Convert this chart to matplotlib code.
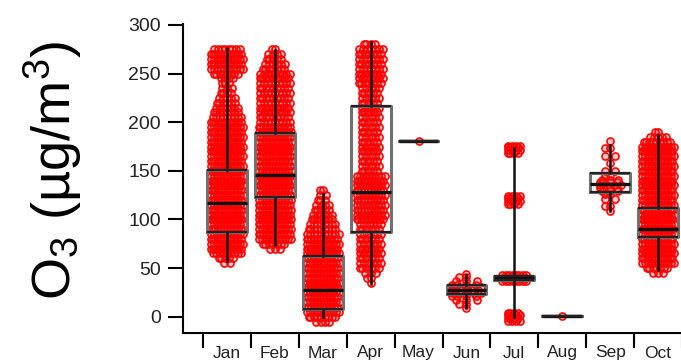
import matplotlib
matplotlib.use("Agg")
import matplotlib.pyplot as plt
import numpy as np

plt.rcParams["font.family"] = ["Liberation Sans", "DejaVu Sans"]
plt.rcParams["mathtext.fontset"] = "custom"
plt.rcParams["mathtext.rm"] = "Liberation Sans"
plt.rcParams["mathtext.it"] = "Liberation Sans:italic"
plt.rcParams["mathtext.bf"] = "Liberation Sans:bold"

months = ["Jan", "Feb", "Mar", "Apr", "May", "Jun", "Jul", "Aug", "Sep", "Oct"]

# box statistics (ug/m3)
q1 = [87, 123, 8, 87, 180.5, 23, 38, 0.5, 128.5, 82]
med = [117, 146, 27.5, 128, 180.5, 27.5, 40, 0.5, 136.5, 90]
q3 = [151, 189, 62, 217, 180.5, 32.5, 42, 0.5, 148, 111.5]
whislo = [57, 74, 0, 34, 180.5, 9, 0, 0.5, 109, 48]
whishi = [276, 274, 126, 283, 180.5, 43, 173, 0.5, 177, 187]

# measured points: concentration levels and how many samples sit at each level
jan_y = [55, 60, 65, 70, 75, 80, 85, 90, 95, 100, 105, 110, 115, 120, 125, 130,
         135, 140, 145, 150, 155, 160, 165, 170, 175, 180, 185, 190, 195, 200,
         205, 210, 215, 220, 225, 230, 235, 240, 245, 250, 255, 260, 265, 270, 275]
jan_n = [2, 5, 9, 12, 12, 12, 12, 12, 12, 12, 12, 12, 12, 12, 12, 12,
         12, 12, 12, 12, 12, 12, 12, 12, 12, 12, 12, 12, 12, 12,
         9, 8, 7, 6, 5, 4, 3, 3, 4, 8, 11, 12, 12, 12, 8]

feb_y = [70, 75, 80, 85, 90, 95, 100, 105, 110, 115, 120, 125, 130, 135, 140,
         145, 150, 155, 160, 165, 170, 175, 180, 185, 190, 195, 200, 205, 210,
         215, 220, 225, 230, 235, 240, 245, 250, 255, 260, 265, 270, 275]
feb_n = [3, 7, 12, 12, 12, 12, 12, 12, 12, 12, 12, 12, 12, 12, 12,
         12, 12, 12, 12, 12, 12, 12, 12, 12, 12, 12, 9, 9, 9,
         9, 9, 9, 9, 9, 9, 9, 9, 7, 6, 5, 4, 2]

mar_y = [-5, 0, 5, 10, 15, 20, 25, 30, 35, 40, 45, 50, 55, 60, 65, 70, 75, 80,
         85, 90, 95, 100, 105, 110, 115, 120, 125, 130]
mar_n = [4, 9, 12, 12, 12, 12, 12, 12, 12, 12, 12, 12, 12, 12, 12, 12, 12, 12,
         10, 9, 8, 7, 6, 5, 4, 3, 2, 2]

apr_y = [35, 40, 45, 50, 55, 60, 65, 70, 75, 80, 85, 90, 95, 100, 105, 110,
         115, 120, 125, 130, 135, 140, 145, 150, 155, 160, 165, 170, 175, 180,
         185, 190, 195, 200, 205, 210, 215, 220, 225, 230, 235, 240, 245, 250,
         255, 260, 265, 270, 275, 280]
apr_n = [1, 2, 3, 6, 6, 6, 6, 6, 6, 6, 6, 6, 6, 10, 10, 10,
         10, 10, 10, 10, 10, 10, 10, 5, 5, 5, 5, 5, 5, 5,
         5, 5, 5, 5, 5, 5, 5, 5, 5, 5, 5, 7, 7, 7,
         7, 7, 7, 7, 7, 4]

may_y = [181]
may_n = [1]

jun_y = [9, 13, 17, 21, 24, 27, 30, 33, 37, 41, 44]
jun_n = [1, 2, 3, 4, 5, 6, 5, 4, 3, 2, 1]

jul_y = [-4, -1, 2, 4, 37, 40, 43, 116, 119, 122, 124, 168, 171, 174, 176]
jul_n = [4, 4, 4, 4, 8, 10, 8, 4, 4, 4, 4, 4, 4, 4, 4]

aug_y = [0.5]
aug_n = [1]

sep_y = [109, 114, 121, 126, 129, 132, 135, 138, 141, 145, 150, 158, 165, 173, 181]
sep_n = [1, 2, 2, 2, 3, 4, 4, 4, 3, 2, 2, 1, 2, 2, 1]

oct_y = [45, 50, 55, 60, 65, 70, 75, 80, 85, 90, 95, 100, 105, 110, 115, 120,
         125, 130, 135, 140, 145, 150, 155, 160, 165, 170, 175, 180, 185, 190]
oct_n = [3, 7, 12, 12, 12, 12, 12, 12, 12, 12, 12, 12, 12, 12, 12, 12,
         12, 12, 12, 12, 12, 12, 12, 12, 12, 12, 12, 9, 5, 2]

levels = [jan_y, feb_y, mar_y, apr_y, may_y, jun_y, jul_y, aug_y, sep_y, oct_y]
counts = [jan_n, feb_n, mar_n, apr_n, may_n, jun_n, jul_n, aug_n, sep_n, oct_n]

# half width of the point cloud and the row count that fills it
half_w = [0.33, 0.34, 0.33, 0.29, 0.1, 0.3, 0.25, 0.3, 0.22, 0.33]
n_full = [10, 10, 10, 8, 4, 4, 8, 4, 4, 10]

fig = plt.figure(figsize=(6.81, 3.61), dpi=100)
ax = fig.add_axes([183 / 681, 28 / 361, 499 / 681, 308.7 / 361])

for i in range(len(months)):
    xs, ys = [], []
    for k, (y, n) in enumerate(zip(levels[i], counts[i])):
        hw = half_w[i] * min(1.0, n / n_full[i])
        if n > 1:
            offs = np.linspace(-hw, hw, n)
            if k % 2:
                # stagger every other row so the rings interlock
                offs = offs + (offs[1] - offs[0]) / 2
                offs = offs[offs <= hw + 1e-9]
                offs = np.append(offs, -hw)
        else:
            offs = np.array([0.0])
        xs.extend(i + offs)
        ys.extend([y] * len(offs))
    ax.scatter(xs, ys, s=26, marker="o", facecolors=(1, 0, 0, 0.22),
               edgecolors="#ff0000", linewidths=1.15, zorder=1)

stats = []
for i in range(len(months)):
    stats.append(dict(med=med[i], q1=q1[i], q3=q3[i],
                      whislo=whislo[i], whishi=whishi[i], fliers=[]))

box_w = 0.83
pos = np.arange(len(months))
ax.bxp(stats, positions=pos, widths=box_w, showfliers=False, showcaps=False,
       manage_ticks=False,
       boxprops=dict(color="#707070", linewidth=2.2),
       medianprops=dict(color="#111111", linewidth=2.4),
       whiskerprops=dict(color="#111111", linewidth=1.8))
ax.hlines(q1, pos - box_w / 2, pos + box_w / 2, color="#222222", lw=1.6, zorder=4)
ax.hlines(q3, pos - box_w / 2, pos + box_w / 2, color="#222222", lw=1.6, zorder=4)

ax.set_xlim(-0.918, 9.5)
ax.set_ylim(-16.8, 300.7)

for s in ["top", "right"]:
    ax.spines[s].set_visible(False)
for s in ["left", "bottom"]:
    ax.spines[s].set_linewidth(1.5)

ax.set_yticks([0, 50, 100, 150, 200, 250, 300])
ax.tick_params(axis="y", direction="out", length=11, width=1.5,
               labelsize=14, pad=5, labelcolor="#222222")

ax.set_xticks(np.arange(-0.5, 10, 1.0))
ax.set_xticklabels([])
ax.set_xticks(pos, minor=True)
ax.set_xticklabels(months, minor=True)
ax.tick_params(axis="x", which="major", direction="out", length=11, width=1.5)
ax.tick_params(axis="x", which="minor", length=0, labelsize=12.5, pad=9,
               labelcolor="#222222")

fig.text(53.5 / 681, 1 - 170 / 361, r"O$_\mathregular{3}$ (µg/m$^\mathregular{3}$)",
         rotation=90, ha="center", va="center", fontsize=39)

fig.savefig("out.png", dpi=100)
